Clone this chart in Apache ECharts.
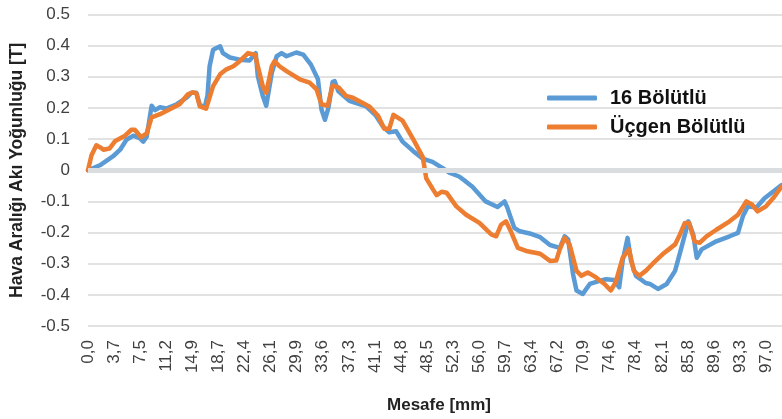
<!DOCTYPE html>
<html>
<head>
<meta charset="utf-8">
<script src="https://cdn.jsdelivr.net/npm/echarts@6/dist/echarts.min.js"></script>
<style>
  html, body { margin: 0; padding: 0; background: #fff; }
  #chart { width: 782px; height: 419px; }
</style>
</head>
<body>
<div id="chart"></div>
<script>
// Mesafe [mm] ve akı yoğunluğu [T]
var blueMm = [0.0, 1.7, 3.6, 4.6, 5.5, 6.5, 7.4, 7.9, 8.4, 9.1, 9.6, 10.3, 11.2, 12.7, 14.1, 14.8, 15.5, 16.0, 16.7, 17.1,
  17.4, 17.9, 18.9, 19.3, 20.3, 21.7, 23.1, 24.0, 24.3, 25.0, 25.5, 26.3, 27.0, 27.7, 28.4, 29.8, 30.8, 31.9, 32.9, 33.4,
  33.9, 34.4, 35.0, 35.3, 35.8, 37.4, 39.8, 41.2, 42.2, 43.1, 44.1, 45.0, 46.5, 47.9, 49.3, 50.8, 51.7, 53.1, 54.0, 55.0,
  56.9, 58.6, 59.6, 60.0, 60.5, 61.0, 61.8, 63.2, 64.7, 66.1, 67.5, 68.2, 68.7, 69.4, 69.9, 70.8, 71.8, 73.2, 74.1, 75.3,
  76.0, 76.5, 77.2, 77.7, 78.4, 79.8, 80.4, 81.2, 81.6, 82.8, 84.0, 84.9, 85.9, 86.6, 87.1, 87.8, 89.9, 91.8, 93.0, 93.7,
  94.4, 95.6, 96.8, 98.0, 99.2];
var blueT = [0.0, 0.016, 0.045, 0.066, 0.098, 0.111, 0.103, 0.092, 0.108, 0.207, 0.193, 0.202, 0.198, 0.212, 0.233, 0.249, 0.249, 0.21, 0.202, 0.24,
  0.334, 0.387, 0.398, 0.376, 0.362, 0.355, 0.352, 0.376, 0.302, 0.239, 0.207, 0.313, 0.366, 0.376, 0.366, 0.378, 0.371, 0.339, 0.292, 0.196,
  0.162, 0.2, 0.284, 0.286, 0.254, 0.223, 0.205, 0.175, 0.14, 0.122, 0.125, 0.092, 0.062, 0.037, 0.027, 0.006, -0.008, -0.02, -0.035, -0.053,
  -0.1, -0.118, -0.1, -0.12, -0.153, -0.185, -0.196, -0.203, -0.215, -0.24, -0.249, -0.212, -0.222, -0.334, -0.386, -0.397, -0.365, -0.355, -0.35, -0.352,
  -0.376, -0.291, -0.217, -0.291, -0.339, -0.362, -0.365, -0.376, -0.381, -0.365, -0.323, -0.249, -0.164, -0.206, -0.281, -0.254, -0.228, -0.212, -0.201, -0.148,
  -0.116, -0.12, -0.09, -0.069, -0.048];

var orangeMm = [0.0, 0.5, 1.2, 1.7, 2.2, 3.1, 3.9, 5.3, 6.2, 6.7, 7.6, 8.4, 9.1, 10.3, 11.7, 13.1, 14.3, 15.0, 15.5, 16.0,
  16.9, 17.9, 18.9, 19.8, 20.8, 21.7, 22.9, 23.9, 24.3, 25.0, 25.5, 26.3, 26.7, 27.4, 28.4, 30.3, 31.7, 32.7, 33.4, 34.3,
  35.0, 35.9, 36.9, 37.9, 40.3, 41.5, 42.4, 43.1, 43.7, 45.0, 46.5, 47.9, 48.4, 49.4, 49.9, 50.6, 51.3, 52.7, 54.1, 56.0,
  57.7, 58.4, 59.1, 59.8, 60.5, 61.5, 62.7, 64.7, 66.1, 67.0, 67.5, 68.2, 68.9, 69.9, 70.6, 71.5, 72.7, 73.9, 74.8, 75.5,
  76.5, 77.4, 78.1, 78.9, 79.8, 80.8, 82.2, 83.1, 84.0, 84.7, 85.4, 86.0, 86.8, 87.5, 88.5, 89.9, 91.8, 93.0, 94.2, 95.0,
  95.8, 97.0, 98.2, 99.2];
var orangeT = [0.0, 0.048, 0.08, 0.074, 0.066, 0.07, 0.094, 0.111, 0.13, 0.13, 0.106, 0.118, 0.17, 0.18, 0.196, 0.212, 0.244, 0.25, 0.247, 0.205,
  0.198, 0.27, 0.308, 0.324, 0.334, 0.35, 0.376, 0.371, 0.334, 0.27, 0.249, 0.334, 0.35, 0.334, 0.318, 0.292, 0.281, 0.26, 0.212, 0.207,
  0.272, 0.265, 0.239, 0.233, 0.204, 0.175, 0.133, 0.133, 0.178, 0.159, 0.101, 0.042, -0.026, -0.063, -0.08, -0.069, -0.072, -0.116, -0.143, -0.169,
  -0.206, -0.212, -0.175, -0.164, -0.196, -0.249, -0.259, -0.268, -0.291, -0.29, -0.254, -0.217, -0.238, -0.323, -0.339, -0.328, -0.344, -0.365, -0.386, -0.36,
  -0.281, -0.254, -0.323, -0.339, -0.323, -0.3, -0.27, -0.254, -0.238, -0.206, -0.169, -0.169, -0.228, -0.233, -0.212, -0.191, -0.164, -0.143, -0.1, -0.11,
  -0.132, -0.116, -0.085, -0.053];

var seriesNames = ['16 Bölütlü', 'Üçgen Bölütlü'];
var xTickStep = 3.7323; // etiketler: 0,0 3,7 7,5 ... 97,0

function zip(xs, ys) {
  var out = [];
  for (var i = 0; i < xs.length; i++) out.push([xs[i], ys[i]]);
  return out;
}

var chart = echarts.init(document.getElementById('chart'));
chart.setOption({
  animation: false,
  grid: { left: 88, right: 0, top: 14.5, bottom: 90 },
  legend: {
    orient: 'vertical',
    left: 542,
    top: 83,
    itemWidth: 50,
    itemHeight: 5,
    itemGap: 9,
    icon: 'roundRect',
    data: seriesNames,
    textStyle: { fontFamily: 'Liberation Sans', fontSize: 20, fontWeight: 'bold', color: '#111', padding: [0, 0, 0, 8] }
  },
  xAxis: {
    type: 'value',
    min: 0,
    max: 99.3,
    interval: xTickStep,
    name: 'Mesafe [mm]',
    nameLocation: 'middle',
    nameGap: 71,
    nameTextStyle: { fontFamily: 'Liberation Sans', fontSize: 17, fontWeight: 'bold', color: '#222', padding: [0, 0, 0, 8] },
    axisLine: { show: false },
    axisTick: { show: false },
    splitLine: { show: false },
    axisLabel: {
      rotate: 90,
      margin: 14,
      showMaxLabel: false,
      fontFamily: 'Liberation Sans',
      fontSize: 17,
      color: '#404040',
      formatter: function (v) { return v.toFixed(1).replace('.', ','); }
    }
  },
  yAxis: {
    type: 'value',
    min: -0.5,
    max: 0.5,
    interval: 0.1,
    name: 'Hava Aralığı Akı Yoğunluğu [T]',
    nameLocation: 'middle',
    nameRotate: 90,
    nameGap: 62,
    nameTextStyle: { fontFamily: 'Liberation Sans', fontSize: 17.5, fontWeight: 'bold', color: '#222' },
    axisLine: { show: false },
    axisTick: { show: false },
    splitLine: { lineStyle: { color: '#e2e2e2', width: 2 } },
    axisLabel: {
      margin: 18,
      fontFamily: 'Liberation Sans',
      fontSize: 17,
      color: '#404040',
      formatter: function (v) { return Math.abs(v) < 1e-9 ? '0' : v.toFixed(1); }
    }
  },
  series: [
    {
      type: 'line',
      data: [],
      silent: true,
      z: 1,
      markLine: {
        silent: true,
        symbol: 'none',
        label: { show: false },
        lineStyle: { color: '#dadde0', width: 5, type: 'solid' },
        data: [{ yAxis: 0 }]
      }
    },
    {
      name: seriesNames[0],
      type: 'line',
      data: zip(blueMm, blueT),
      showSymbol: false,
      z: 3,
      color: '#5b9bd5',
      lineStyle: { width: 4.5, color: '#5b9bd5', join: 'round', cap: 'round' }
    },
    {
      name: seriesNames[1],
      type: 'line',
      data: zip(orangeMm, orangeT),
      showSymbol: false,
      z: 4,
      color: '#ed7d31',
      lineStyle: { width: 4.5, color: '#ed7d31', join: 'round', cap: 'round' }
    }
  ]
});
</script>
</body>
</html>
